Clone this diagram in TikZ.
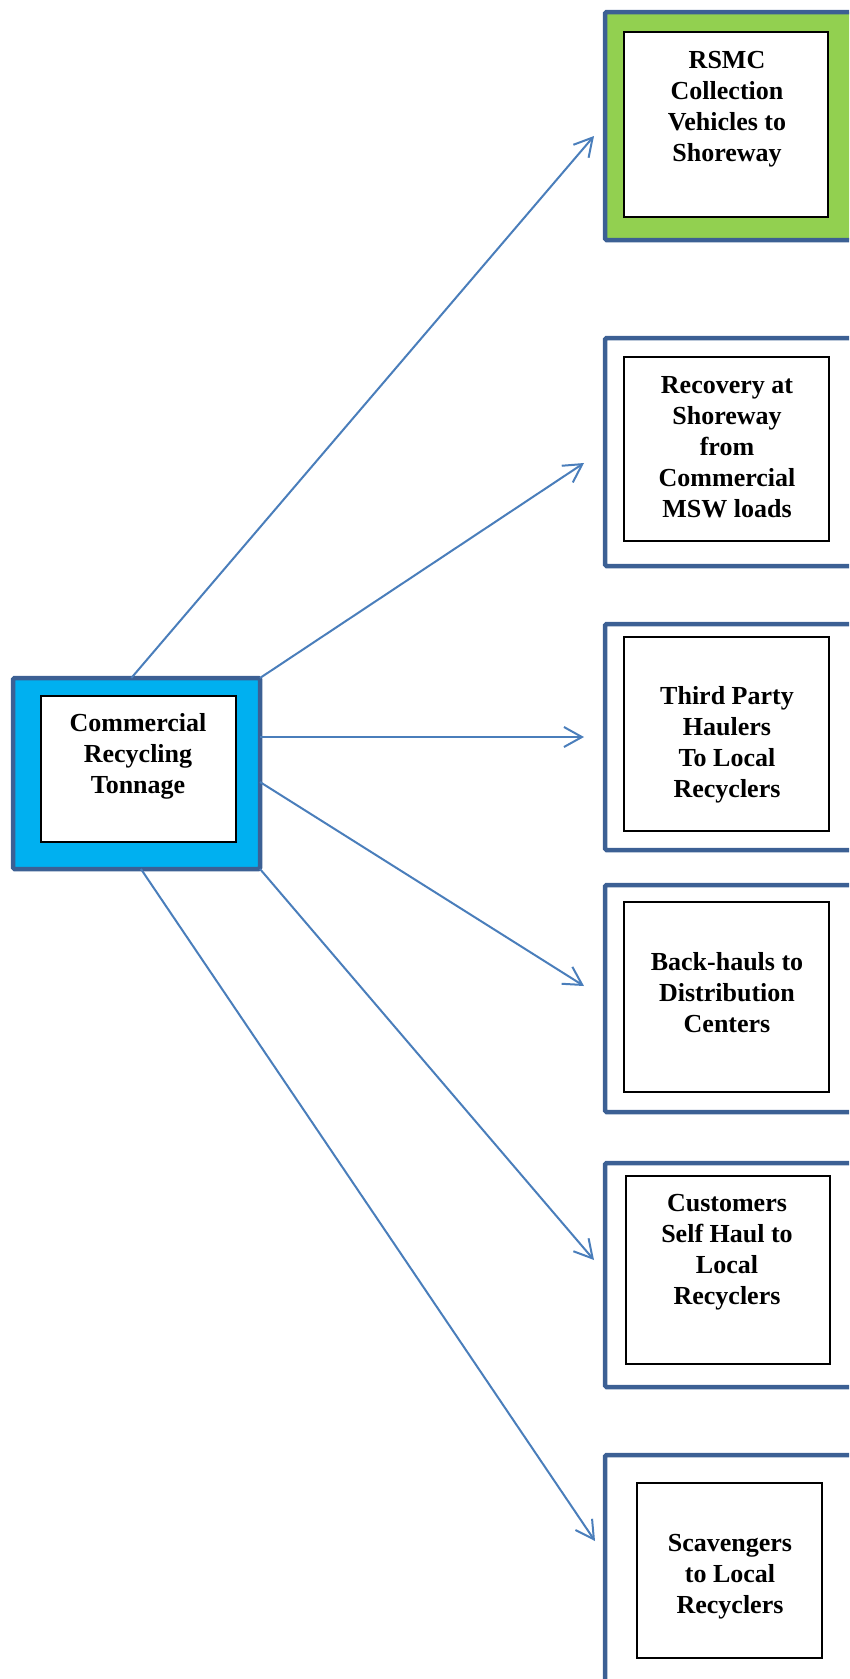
\documentclass[tikz,border=0pt]{standalone}
\usepackage{fontspec}
\setmainfont{Liberation Serif}
\usetikzlibrary{arrows.meta,calc}
\definecolor{frameblue}{HTML}{3C6094}
\definecolor{arrowblue}{HTML}{4A7EBB}
\definecolor{greenfill}{HTML}{92D050}
\definecolor{cyanfill}{HTML}{00B0F0}
\begin{document}
\begin{tikzpicture}[x=1pt,y=-1pt,
  outerbox/.style={draw=frameblue,line width=4.5pt,rounded corners=1.5pt,inner sep=0pt,outer sep=0pt,anchor=north west},
  innerbox/.style={draw=black,line width=1.5pt,fill=white,inner sep=0pt,outer sep=0pt,anchor=north west},
  lbl/.style={font=\fontsize{26}{31}\selectfont\bfseries,align=center,inner sep=0pt,anchor=north},
  flow/.style={draw=arrowblue,line width=2pt,-{Straight Barb[length=18pt,width=20pt,line width=2pt]}}]
\useasboundingbox (0,0) rectangle (849,1679);
\clip (0,0) rectangle (849,1679);

% central box
\node[outerbox,fill=cyanfill,minimum width=247pt,minimum height=191pt] (co) at (13,678) {};
\node[innerbox,minimum width=195pt,minimum height=146pt] (ci) at (41,696) {};
\node[lbl] (ct) at (138,713) {Commercial\\Recycling\\Tonnage};

% right boxes
\node[outerbox,fill=greenfill,minimum width=280pt,minimum height=228pt] (o1) at (605,12) {};
\node[innerbox,minimum width=204pt,minimum height=185pt] (i1) at (624,32) {};
\node[lbl] (t1) at (727,51) {RSMC\\Collection\\Vehicles to\\Shoreway};

\node[outerbox,minimum width=280pt,minimum height=228pt] (o2) at (605,338) {};
\node[innerbox,minimum width=205pt,minimum height=184pt] (i2) at (624,357) {};
\node[lbl] (t2) at (727,376) {Recovery at\\Shoreway\\from\\Commercial\\MSW loads};

\node[outerbox,minimum width=280pt,minimum height=226pt] (o3) at (605,624) {};
\node[innerbox,minimum width=205pt,minimum height=194pt] (i3) at (624,637) {};
\node[lbl] (t3) at (727,686) {Third Party\\Haulers\\To Local\\Recyclers};

\node[outerbox,minimum width=280pt,minimum height=227pt] (o4) at (605,885) {};
\node[innerbox,minimum width=205pt,minimum height=190pt] (i4) at (624,902) {};
\node[lbl] (t4) at (727,952) {Back-hauls to\\Distribution\\Centers};

\node[outerbox,minimum width=280pt,minimum height=224pt] (o5) at (605,1163) {};
\node[innerbox,minimum width=204pt,minimum height=188pt] (i5) at (626,1176) {};
\node[lbl] (t5) at (727,1194) {Customers\\Self Haul to\\Local\\Recyclers};

\node[outerbox,minimum width=280pt,minimum height=245pt] (o6) at (605,1455) {};
\node[innerbox,minimum width=185pt,minimum height=175pt] (i6) at (637,1483) {};
\node[lbl] (t6) at (730,1534) {Scavengers\\to Local\\Recyclers};

% connector start/end coordinates
\coordinate (s1) at ($(co.north west)!0.479!(co.north east)$);
\coordinate (s6) at ($(co.south west)!0.518!(co.south east)$);
\coordinate (e1) at (594,136);
\coordinate (e2) at (584,463);
\coordinate (e3) at (584,737);
\coordinate (e4) at (584,986);
\coordinate (e5) at (594,1260);
\coordinate (e6) at (595,1541);

\draw[flow] (s1) -- (e1);
\draw[flow] (co.north east) -- (e2);
\draw[flow] (co.east |- e3) -- (e3);
\draw[flow] ([yshift=-104pt]co.north east) -- (e4);
\draw[flow] (co.south east) -- (e5);
\draw[flow] (s6) -- (e6);
\end{tikzpicture}
\end{document}
